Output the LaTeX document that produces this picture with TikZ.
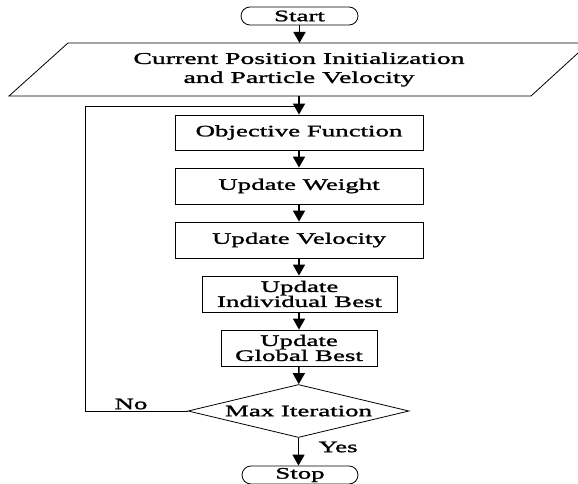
\documentclass[tikz,border=0pt]{standalone}
\usepackage{fontspec}
\setmainfont{Liberation Serif}[FakeStretch=1.68,FakeBold=1.5]
\usetikzlibrary{arrows.meta,shapes.geometric}
\begin{document}
\begin{tikzpicture}[x=1pt,y=-1pt,
  lbl/.style={font=\fontsize{16}{15}\selectfont, align=center},
  box/.style={lbl, draw, line width=0.8pt, inner sep=0pt},
  procbox/.style={box, minimum height=36pt},
  term/.style={box, rounded corners=9pt, minimum width=117pt, minimum height=18pt},
  flow/.style={line width=1.6pt, -{Triangle[width=12pt,length=11pt]}},
  thinline/.style={line width=0.8pt}]
\clip (0,0) rectangle (578,484);
\node[term] (start) at (299.5,16) {Start};
\draw[thinline] (68,43) -- (589,43) -- (531,96) -- (9,96) -- cycle;
\node[lbl, minimum height=53pt, inner sep=0pt, font=\fontsize{16.5}{19}\selectfont] (init) at (299,69.5) {Current Position Initialization\\and Particle Velocity};
\node[procbox, minimum width=248pt, minimum height=35pt] (obj) at (299,132.5) {Objective Function};
\node[procbox, minimum width=248pt] (wt) at (299,186) {Update Weight};
\node[procbox, minimum width=248pt] (vel) at (299,240) {Update Velocity};
\node[procbox, minimum width=195pt] (ib) at (299.5,294) {Update\\Individual Best};
\node[procbox, minimum width=156pt] (gb) at (299,348) {Update\\Global Best};
\node[box, diamond, aspect=4.17, minimum width=221pt, minimum height=53pt] (dec) at (298.5,411) {Max Iteration};
\node[term, minimum width=116pt] (stop) at (300,475) {Stop};
\node[lbl] (no) at (131,404) {No};
\node[lbl] (yes) at (338,447) {Yes};
\coordinate (fbk) at (85,106);
\coordinate (join) at (299,106);
\draw[flow] (start) -- (299.5,43);
\draw[flow] (init.south) -- (obj.north);
\draw[flow] (obj) -- (wt);
\draw[flow] (wt) -- (vel);
\draw[flow] (vel.south) -- (ib.north -| vel.south);
\draw[flow] (ib.south -| gb.north) -- (gb.north);
\draw[flow] (gb) -- (dec);
\draw[flow] (dec.south) -- (stop.north -| dec.south);
\draw[thinline] (dec.west) -| (fbk) -- (join);
\end{tikzpicture}
\end{document}
